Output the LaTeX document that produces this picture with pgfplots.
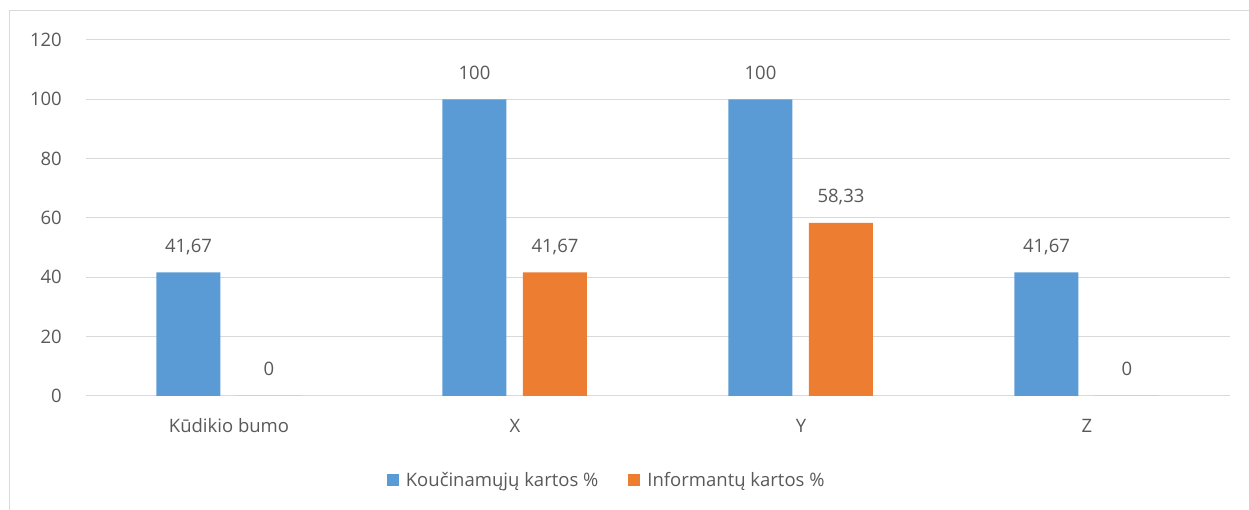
\documentclass[border=0pt]{standalone}
\usepackage{pgfplots}
\pgfplotsset{compat=1.18}
\usepackage{fontspec}
\setmainfont{Open Sans}
\definecolor{cblue}{HTML}{5B9BD5}
\definecolor{corange}{HTML}{ED7D31}
\definecolor{ctext}{HTML}{595959}
\definecolor{cgrid}{HTML}{D9D9D9}
\newcommand{\cf}{\fontsize{18.5bp}{22bp}\selectfont}
\begin{document}
\begin{tikzpicture}
\path[use as bounding box] (0bp,0bp) rectangle (1249bp,510bp);
\draw[cgrid, line width=1bp] (9.5bp,0bp) -- (9.5bp,499bp) -- (1249bp,499bp);
\begin{axis}[
  at={(86bp,114bp)}, anchor=south west,
  scale only axis, width=1144bp, height=356bp,
  xmin=-0.5, xmax=3.5, ymin=0, ymax=120,
  ytick={0,20,...,120},
  xtick={0,1,2,3},
  xticklabels={Kūdikio bumo, X, Y, Z},
  axis line style={draw=none},
  major tick length=0pt,
  tick style={draw=none},
  ymajorgrids,
  grid style={cgrid, line width=1bp},
  /pgf/number format/.cd, use comma, fixed, precision=2, assume math mode=true,
  /pgfplots/.cd,
  yticklabel style={font=\cf, text=ctext, anchor=east, inner sep=0pt, xshift=-24bp},
  xticklabel style={font=\cf, text=ctext, anchor=base, inner sep=0pt, yshift=-37bp},
  ybar, bar width=64bp,
  nodes near coords,
  every node near coord/.append style={font=\cf, text=ctext, anchor=base, inner sep=0pt, yshift=20bp},
  legend columns=2,
  legend image code/.code={\fill[#1] (0bp,-6bp) rectangle (12bp,6bp);},
  legend style={at={(0.263,-0.236)}, anchor=west, draw=none, fill=none,
    inner sep=0pt, outer sep=0pt, font=\cf, text=ctext,
    nodes={inner sep=0pt},
    /tikz/every odd column/.append style={column sep=7bp},
    /tikz/every even column/.append style={column sep=30bp}},
  legend cell align=left,
]
\addplot[fill=cblue, draw=none, bar shift=-40.5bp] coordinates {(0,41.67) (1,100) (2,100) (3,41.67)};
\addplot[fill=corange, draw=none, bar shift=40bp] coordinates {(0,0) (1,41.67) (2,58.33) (3,0)};
\legend{Koučinamųjų kartos \%, Informantų kartos \%}
\end{axis}
\end{tikzpicture}
\end{document}
